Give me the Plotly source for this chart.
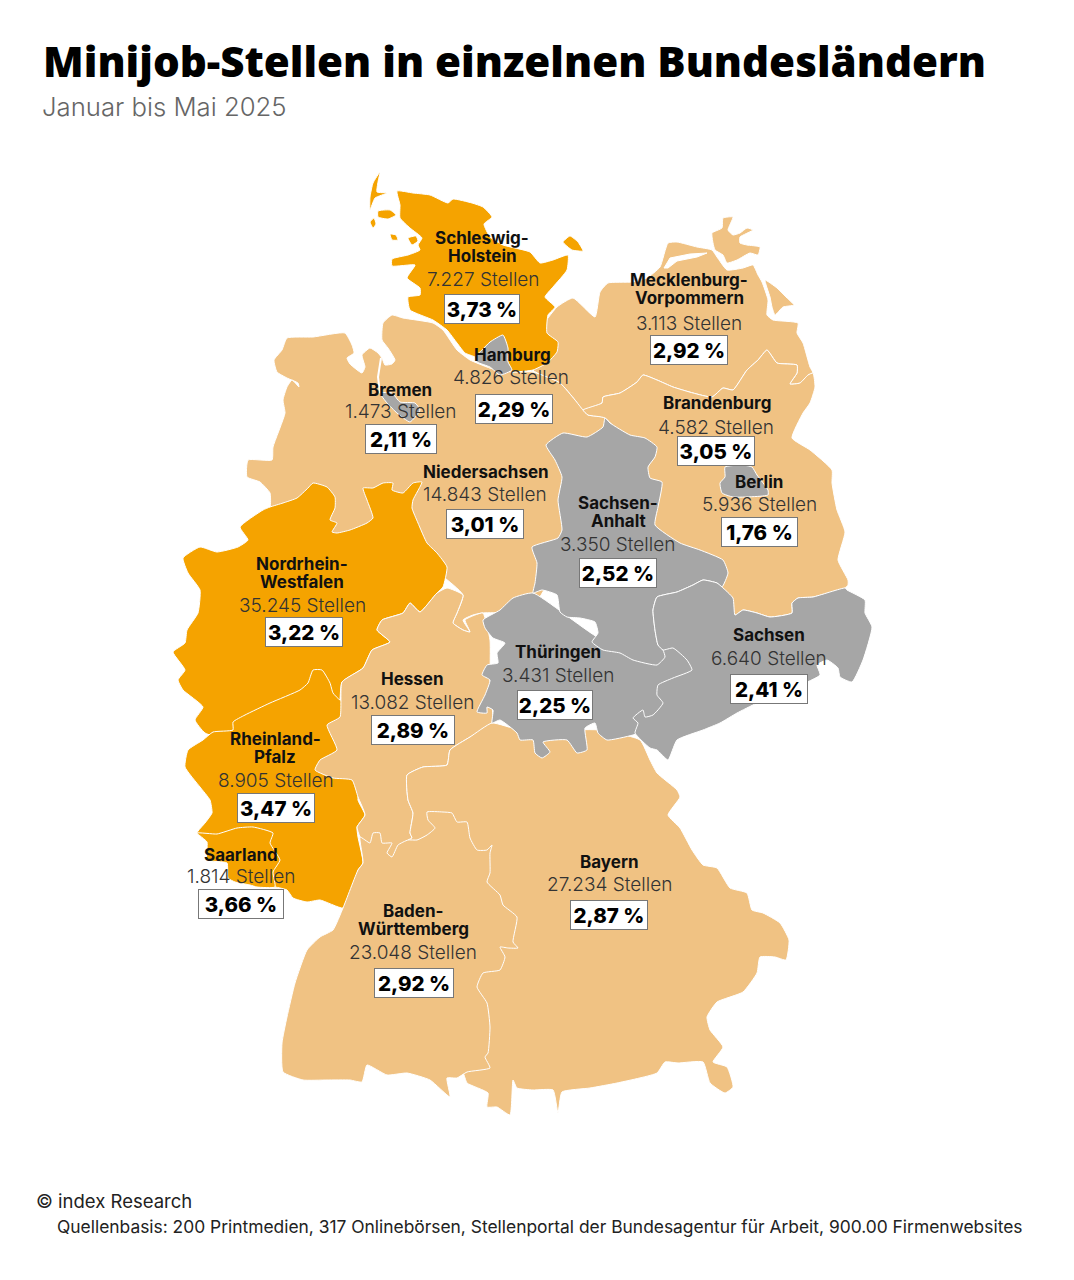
import plotly.graph_objects as go

# ---------- data ----------
STATES = ["Schleswig-Holstein", "Mecklenburg-Vorpommern", "Hamburg", "Bremen", "Niedersachsen",
          "Brandenburg", "Berlin", "Sachsen-Anhalt", "Nordrhein-Westfalen", "Hessen", "Thüringen",
          "Sachsen", "Rheinland-Pfalz", "Saarland", "Baden-Württemberg", "Bayern"]
JOBS = [7227, 3113, 4826, 1473, 14843, 4582, 5936, 3350, 35245, 13082, 3431, 6640, 8905, 1814, 23048, 27234]
SHARES = [3.73, 2.92, 2.29, 2.11, 3.01, 3.05, 1.76, 2.52, 3.22, 2.89, 2.25, 2.41, 3.47, 3.66, 2.92, 2.87]
NAME_LINES = {"Schleswig-Holstein": ["Schleswig-", "Holstein"],
              "Mecklenburg-Vorpommern": ["Mecklenburg-", "Vorpommern"],
              "Sachsen-Anhalt": ["Sachsen-", "Anhalt"],
              "Nordrhein-Westfalen": ["Nordrhein-", "Westfalen"],
              "Rheinland-Pfalz": ["Rheinland-", "Pfalz"],
              "Baden-Württemberg": ["Baden-", "Württemberg"]}
TITLE = "Minijob-Stellen in einzelnen Bundesländern"
SUBTITLE = "Januar bis Mai 2025"
CREDIT = "© index Research"
SOURCE = "Quellenbasis: 200 Printmedien, 317 Onlinebörsen, Stellenportal der Bundesagentur für Arbeit, 900.00 Firmenwebsites"

# ---------- geometry: state outlines ----------
SH = [[(397,191),(413,193),(430,195),(448,203),(453,199),(472,203),(483,207),(492,217),(484,224),(490,237),(503,245),(530,252),(540,263),(553,260),(568,255),(567,270),(553,287),(545,297),(555,307),(548,315),(547,333),(558,342),(557,352),(547,363),(533,370),(513,372),(490,368),(475,357),(465,353),(457,343),(447,330),(433,320),(410,310),(408,297),(420,295),(420,288),(407,278),(415,265),(392,266),(392,259),(408,255),(420,250),(418,245),(422,238),(410,228),(400,218),(400,205)],
      [(380,172),(373,183),(370,197),(370,210),(375,198),(387,193),(377,192),(378,182)],
      [(378,211),(390,210),(396,215),(388,219),(378,217)],
      [(370,222),(374,218),(376,224),(373,228)],
      [(390,234),(396,235),(398,240),(392,240)],
      [(408,238),(416,236),(418,241),(412,245)],
      [(563,242),(570,236),(578,242),(583,251),(572,250)]]
MV = [[(540,330),(557,307),(573,298),(595,317),(600,292),(608,283),(632,282),(647,278),(660,267),(668,243),(677,242),(697,247),(712,250),(717,257),(727,270),(743,268),(753,265),(758,275),(762,282),(768,300),(767,315),(773,320),(798,323),(797,333),(803,343),(810,367),(813,373),(808,375),(800,383),(790,384),(797,373),(797,365),(777,363),(767,350),(758,360),(747,370),(733,390),(723,388),(712,397),(693,393),(673,387),(657,380),(643,375),(637,382),(620,393),(603,397),(602,403),(583,410),(575,400),(560,383),(533,370)],
      [(733,217),(723,218),(722,228),(712,233),(713,243),(715,250),(723,255),(727,263),(737,260),(750,253),(758,255),(760,247),(747,245),(740,243),(740,237),(753,230),(747,228),(740,233),(733,235),(728,230)],
      [(765,280),(777,288),(787,298),(794,305),(783,307),(775,315),(772,307),(770,297)]]
NS = [[(392,315),(403,318),(433,323),(443,330),(457,350),(470,360),(490,368),(513,372),(533,372),(560,383),(575,400),(583,410),(588,415),(605,418),(590,470),(560,560),(530,610),(482,613),(473,615),(463,620),(470,632),(463,630),(453,623),(457,613),(463,595),(420,560),(350,540),(280,520),(263,510),(270,507),(270,493),(260,482),(247,477),(248,460),(272,460),(273,447),(285,413),(283,400),(287,387),(292,380),(299,387),(298,383),(287,378),(277,372),(274,360),(282,350),(287,338),(313,337),(345,333),(352,345),(354,353),(347,358),(350,364),(362,373),(365,367),(362,355),(370,348),(378,353),(382,358),(385,365),(392,364),(395,360),(388,348),(382,340),(383,323)]]
BB = [[(583,410),(602,403),(603,397),(620,393),(637,382),(643,375),(657,380),(673,387),(693,393),(712,397),(723,388),(733,390),(747,370),(758,360),(767,350),(777,363),(797,365),(797,373),(790,384),(800,383),(808,375),(813,373),(815,387),(810,403),(803,413),(792,438),(810,450),(832,470),(832,483),(837,510),(845,532),(838,560),(848,580),(848,585),(845,588),(813,597),(798,598),(792,603),(792,613),(770,617),(757,613),(743,610),(735,615),(720,600),(650,560),(640,460),(605,418),(588,415)]]
HH = [[(503,335),(490,342),(482,350),(475,357),(477,362),(490,367),(500,375),(512,370),(508,362),(508,348)]]
HB = [[(380,393),(392,393),(400,402),(415,403),(420,410),(410,422),(397,413),(387,403)]]
BE = [[(725,467),(742,465),(752,467),(757,475),(768,490),(768,495),(733,497),(722,493),(720,483),(725,477)]]
NRW = [[(270,507),(283,503),(297,498),(308,488),(313,483),(327,487),(335,497),(335,508),(330,520),(337,523),(332,532),(337,533),(350,530),(367,523),(373,518),(367,500),(363,488),(373,488),(383,483),(393,483),(392,490),(403,493),(413,483),(422,482),(413,500),(412,508),(418,523),(427,543),(437,553),(447,567),(443,587),(437,593),(420,612),(410,603),(403,613),(382,620),(377,630),(390,642),(372,650),(363,668),(342,682),(340,700),(340,730),(230,740),(205,733),(195,720),(203,707),(183,690),(178,680),(185,670),(173,652),(185,643),(187,630),(198,613),(200,590),(188,573),(183,558),(200,547),(217,552),(238,547),(248,540),(240,527),(263,510)]]
RP = [[(233,722),(245,715),(270,703),(300,690),(308,683),(313,670),(322,670),(330,683),(333,693),(340,700),(350,700),(360,780),(358,800),(365,815),(357,827),(358,837),(363,863),(358,870),(352,893),(343,908),(320,900),(307,902),(293,898),(287,890),(275,887),(257,887),(250,885),(235,882),(228,878),(227,863),(207,860),(207,842),(197,833),(205,823),(212,813),(210,800),(200,787),(185,767),(188,750),(203,740),(213,732),(233,730)]]
SL = [[(197,833),(217,834),(237,828),(253,827),(273,833),(270,843),(280,860),(273,872),(275,887),(257,887),(250,885),(235,882),(228,878),(227,863),(207,860),(207,842)]]
HE = [[(447,588),(463,595),(457,613),(453,623),(463,630),(470,632),(465,620),(475,615),(483,613),(490,640),(490,680),(492,723),(470,737),(450,750),(447,765),(423,767),(407,775),(408,800),(413,813),(410,833),(412,838),(408,860),(375,860),(360,837),(357,827),(365,815),(358,797),(352,780),(333,778),(315,770),(320,760),(337,750),(327,725),(340,717),(342,682),(363,668),(372,650),(390,642),(377,630),(382,620),(403,613),(410,603),(420,612),(437,593)]]
BY = [[(407,775),(423,767),(447,765),(450,750),(470,737),(492,723),(520,730),(600,730),(640,740),(650,760),(657,773),(677,790),(680,797),(668,815),(680,828),(692,850),(703,865),(717,868),(730,888),(747,893),(752,910),(763,913),(780,923),(789,940),(786,960),(775,957),(760,957),(757,973),(743,992),(717,1002),(707,1017),(710,1030),(723,1047),(713,1062),(727,1067),(733,1087),(725,1093),(710,1083),(703,1062),(678,1063),(665,1062),(657,1073),(617,1083),(590,1088),(562,1092),(558,1113),(553,1090),(533,1090),(517,1088),(513,1080),(510,1115),(497,1107),(487,1107),(488,1093),(467,1083),(463,1073),(450,1070),(440,1000),(440,850),(408,840),(412,838),(410,833),(413,813),(408,800)]]
BW = [[(360,837),(370,843),(373,833),(380,833),(382,843),(392,843),(387,853),(392,857),(398,845),(408,840),(417,840),(427,835),(435,828),(428,820),(427,812),(443,812),(452,813),(457,822),(467,822),(470,838),(477,850),(487,850),(492,845),(490,853),(490,873),(487,882),(500,895),(503,905),(517,917),(513,942),(518,948),(508,948),(500,947),(505,957),(500,970),(483,973),(477,987),(487,1003),(490,1027),(488,1053),(485,1057),(490,1068),(467,1072),(457,1078),(447,1078),(450,1097),(430,1080),(407,1073),(387,1075),(367,1065),(362,1082),(350,1080),(327,1080),(303,1080),(283,1072),(282,1043),(287,1017),(295,983),(307,950),(320,937),(333,930),(343,908),(358,870),(363,863)]]
TH = [[(533,593),(513,598),(500,610),(483,620),(485,628),(493,638),(505,643),(497,653),(498,663),(487,665),(482,675),(490,680),(485,695),(477,712),(487,713),(487,707),(493,710),(492,723),(500,720),(517,733),(520,740),(533,740),(535,753),(542,758),(550,752),(543,742),(567,740),(577,753),(587,750),(585,728),(595,723),(598,733),(607,740),(633,735),(660,725),(700,690),(700,650),(657,640),(603,640)]]
ST = [[(605,418),(610,423),(630,435),(645,438),(657,447),(655,457),(648,467),(650,478),(662,482),(658,507),(655,525),(680,543),(700,550),(723,560),(728,573),(722,587),(717,583),(703,580),(693,585),(677,592),(657,597),(653,610),(655,630),(658,645),(663,650),(665,657),(657,665),(633,660),(620,653),(603,650),(592,642),(598,633),(595,622),(580,618),(567,617),(560,612),(557,595),(542,590),(533,593),(535,583),(537,563),(532,547),(558,538),(562,530),(558,500),(562,477),(555,460),(546,445),(563,433),(587,437),(603,427)]]
SN = [[(722,587),(733,598),(735,615),(743,610),(757,613),(770,617),(792,613),(792,603),(798,598),(813,597),(845,588),(847,590),(865,600),(865,613),(872,627),(863,660),(852,682),(840,677),(838,668),(827,660),(817,665),(820,675),(757,703),(737,713),(720,723),(703,730),(677,740),(668,760),(657,750),(650,748),(635,733),(638,723),(633,718),(643,710),(645,717),(653,715),(663,703),(657,695),(658,685),(673,678),(692,670),(687,660),(673,648),(663,650),(658,645),(655,630),(653,610),(657,597),(677,592),(693,585),(703,580),(717,583)]]
DARSS_LAGOON = [(664,268),(670,258),(690,254),(707,253),(697,257),(677,261),(668,268)]
WESER = [(381,358),(378,377),(380,393)]
ELBE = [(443,327),(457,346),(466,355),(476,360)]

DRAW_ORDER = [("Mecklenburg-Vorpommern", MV), ("Niedersachsen", NS), ("Brandenburg", BB),
              ("Schleswig-Holstein", SH), ("Hamburg", HH), ("Bremen", HB), ("Nordrhein-Westfalen", NRW),
              ("Rheinland-Pfalz", RP), ("Saarland", SL), ("Hessen", HE), ("Bayern", BY),
              ("Baden-Württemberg", BW), ("Thüringen", TH), ("Sachsen-Anhalt", ST), ("Sachsen", SN), ("Berlin", BE)]

# label anchors: state -> (name x, name ys, jobs x, jobs y, box x, box y, box width)
LABEL_POS = {
    "Schleswig-Holstein": (482, [238,256], 483, 279, 482, 309, 76),
    "Mecklenburg-Vorpommern": (689, [280,298], 689, 323, 689, 350, 78),
    "Hamburg": (512, [355], 511, 377, 514, 409, 78),
    "Bremen": (400, [390], 401, 411, 401, 439, 72),
    "Niedersachsen": (486, [472], 485, 494, 485, 524, 78),
    "Brandenburg": (717, [403], 716, 427, 716, 451, 78),
    "Berlin": (759, [482], 759, 504, 759, 532, 77),
    "Sachsen-Anhalt": (618, [503,521], 617, 544, 618, 573, 78),
    "Nordrhein-Westfalen": (302, [564,582], 302, 605, 304, 632, 78),
    "Hessen": (412, [679], 412, 702, 413, 730, 84),
    "Thüringen": (558, [652], 558, 675, 555, 705, 76),
    "Sachsen": (769, [635], 769, 658, 769, 689, 78),
    "Rheinland-Pfalz": (275, [739,757], 276, 780, 276, 808, 78),
    "Saarland": (241, [855], 241, 876, 241, 904, 86),
    "Baden-Württemberg": (413, [911,929], 413, 952, 414, 983, 80),
    "Bayern": (609, [862], 609, 884, 609, 915, 78),
}

ORANGE, SAND, GREY = "#F5A300", "#F0C283", "#A6A6A6"
FONT = "Inter"


def band_colour(share):
    if share >= 3.2:
        return ORANGE
    if share < 2.6:
        return GREY
    return SAND


def flatten(parts):
    xs, ys = [], []
    for part in parts:
        closed = part + [part[0]]
        xs += [p[0] for p in closed] + [None]
        ys += [p[1] for p in closed] + [None]
    return xs, ys


fig = go.Figure()
share_of = dict(zip(STATES, SHARES))
jobs_of = dict(zip(STATES, JOBS))

for name, parts in DRAW_ORDER:
    xs, ys = flatten(parts)
    fig.add_trace(go.Scatter(x=xs, y=ys, mode="lines", fill="toself", name=name,
                             fillcolor=band_colour(share_of[name]),
                             line=dict(color="white", width=1, shape="spline", smoothing=0.45), hoverinfo="name"))
    if name == "Mecklenburg-Vorpommern":
        xs, ys = flatten([DARSS_LAGOON])
        fig.add_trace(go.Scatter(x=xs, y=ys, mode="lines", fill="toself", fillcolor="white",
                                 line=dict(color="white", width=1), hoverinfo="skip"))
    if name == "Brandenburg":
        for river, w in ((WESER, 2), (ELBE, 3)):
            fig.add_trace(go.Scatter(x=[p[0] for p in river], y=[p[1] for p in river], mode="lines",
                                     line=dict(color="white", width=w), hoverinfo="skip"))

ann = []


def text(x, y, s, size, color="#111", weight=400, anchor="center", family=FONT):
    ann.append(dict(x=x, y=y, xref="x", yref="y", text=s, showarrow=False, xanchor=anchor, yanchor="middle",
                    font=dict(family=family, size=size, color=color, weight=weight)))


for name in STATES:
    x, name_ys, job_x, job_y, box_x, box_y, box_w = LABEL_POS[name]
    for line, y in zip(NAME_LINES.get(name, [name]), name_ys):
        text(x, y, line, 17, "#111", 700)
    text(job_x, job_y, f"{jobs_of[name]:,}".replace(",", ".") + " Stellen", 19, "#333", 300)
    ann.append(dict(x=box_x, y=box_y, xref="x", yref="y", showarrow=False, xanchor="center", yanchor="middle",
                    text=f"{share_of[name]:.2f}".replace(".", ",") + " %", width=box_w - 4, height=26,
                    bgcolor="white", bordercolor="#777", borderwidth=1, borderpad=1,
                    font=dict(family=FONT, size=20.5, color="#000", weight=800)))

text(41, 60, TITLE, 42.1, "#000", 800, "left", "Open Sans")
text(40, 106.5, SUBTITLE, 25.7, "#666", 300, "left")
text(34, 1200.5, CREDIT, 18.5, "#222", 400, "left")
text(55, 1226.5, SOURCE, 17.4, "#222", 400, "left")

fig.update_layout(width=1074, height=1280, margin=dict(l=0, r=0, t=0, b=0), showlegend=False,
                  paper_bgcolor="white", plot_bgcolor="white", annotations=ann,
                  xaxis=dict(range=[0, 1074], visible=False, fixedrange=True),
                  yaxis=dict(range=[1280, 0], visible=False, fixedrange=True))
fig.write_html("out.html", post_script="document.body.style.margin='0';", config=dict(displayModeBar=False))
